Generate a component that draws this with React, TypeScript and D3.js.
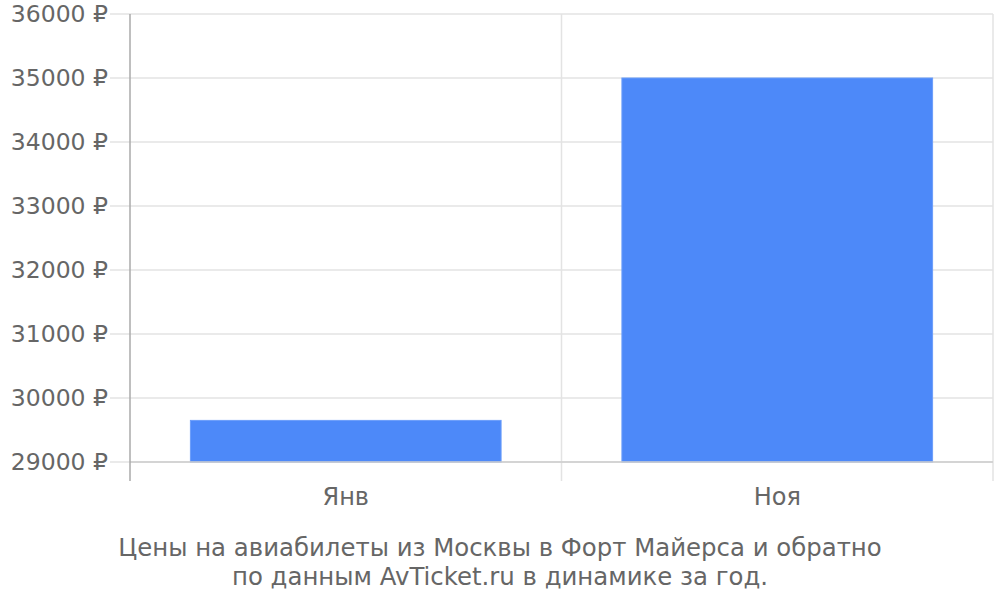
import * as d3 from 'd3';
import React, { useEffect, useRef } from 'react';

const categories = ['Янв', 'Ноя'];
const prices = [29650, 35000];
const yTicks = [29000, 30000, 31000, 32000, 33000, 34000, 35000, 36000];
const titleLines = [
    'Цены на авиабилеты из Москвы в Форт Майерса и обратно',
    'по данным AvTicket.ru в динамике за год.',
];

export default () => {
    const ref = useRef<any>();

    useEffect(() => {
        const svg = d3.select<any, any>(ref.current);
        svg.selectAll('*').remove();

        const left = 130, right = 993, top = 14, bottom = 462;
        const font = '"DejaVu Sans", sans-serif';
        const textColor = '#666666';

        const x = d3.scaleBand<string>().domain(categories).range([left, right]).padding(0);
        const y = d3.scaleLinear().domain([29000, 36000]).range([bottom, top]);

        // horizontal grid
        svg.append('g').selectAll('line').data(yTicks).join('line')
            .attr('x1', 110).attr('x2', right)
            .attr('y1', (d: number) => y(d)).attr('y2', (d: number) => y(d))
            .attr('stroke', '#e3e3e3').attr('stroke-width', 1.5);

        // vertical grid
        const vx = categories.map((c) => (x(c) as number) + x.bandwidth());
        svg.append('g').selectAll('line').data(vx).join('line')
            .attr('x1', (d: number) => d).attr('x2', (d: number) => d)
            .attr('y1', top).attr('y2', 481)
            .attr('stroke', '#e3e3e3').attr('stroke-width', 1.5);

        // bars
        svg.append('g').selectAll('rect').data(prices).join('rect')
            .attr('x', (d: number, i: number) => (x(categories[i]) as number) + x.bandwidth() * 0.14)
            .attr('width', x.bandwidth() * 0.72)
            .attr('y', (d: number) => y(d))
            .attr('height', (d: number) => bottom - y(d))
            .attr('fill', '#4d89f9')
            .attr('stroke', '#6b9dfa').attr('stroke-width', 1);

        // bottom axis line
        svg.append('line')
            .attr('x1', left).attr('x2', right).attr('y1', bottom).attr('y2', bottom)
            .attr('stroke', '#cccccc').attr('stroke-width', 1.5);

        // left axis line
        svg.append('line')
            .attr('x1', left).attr('x2', left).attr('y1', top).attr('y2', 481)
            .attr('stroke', '#aaaaaa').attr('stroke-width', 1.5);

        // y labels
        svg.append('g').selectAll('text').data(yTicks).join('text')
            .attr('x', 108).attr('y', (d: number) => y(d))
            .attr('dy', '0.35em')
            .attr('text-anchor', 'end')
            .attr('font-family', font).attr('font-size', 23.5)
            .attr('fill', textColor)
            .text((d: number) => `${d} ₽`);

        // x labels
        svg.append('g').selectAll('text').data(categories).join('text')
            .attr('x', (d: string) => (x(d) as number) + x.bandwidth() / 2)
            .attr('y', 505)
            .attr('text-anchor', 'middle')
            .attr('font-family', font).attr('font-size', 24)
            .attr('fill', textColor)
            .text((d: string) => d);

        // title
        svg.append('g').selectAll('text').data(titleLines).join('text')
            .attr('x', 500)
            .attr('y', (d: string, i: number) => 556 + i * 29)
            .attr('text-anchor', 'middle')
            .attr('font-family', font).attr('font-size', 24.4)
            .attr('fill', textColor)
            .text((d: string) => d);
    });

    return (
        <svg ref={ref} width={1000} height={600} style={{ position: 'absolute', left: 0, top: 0 }}></svg>
    );
};
